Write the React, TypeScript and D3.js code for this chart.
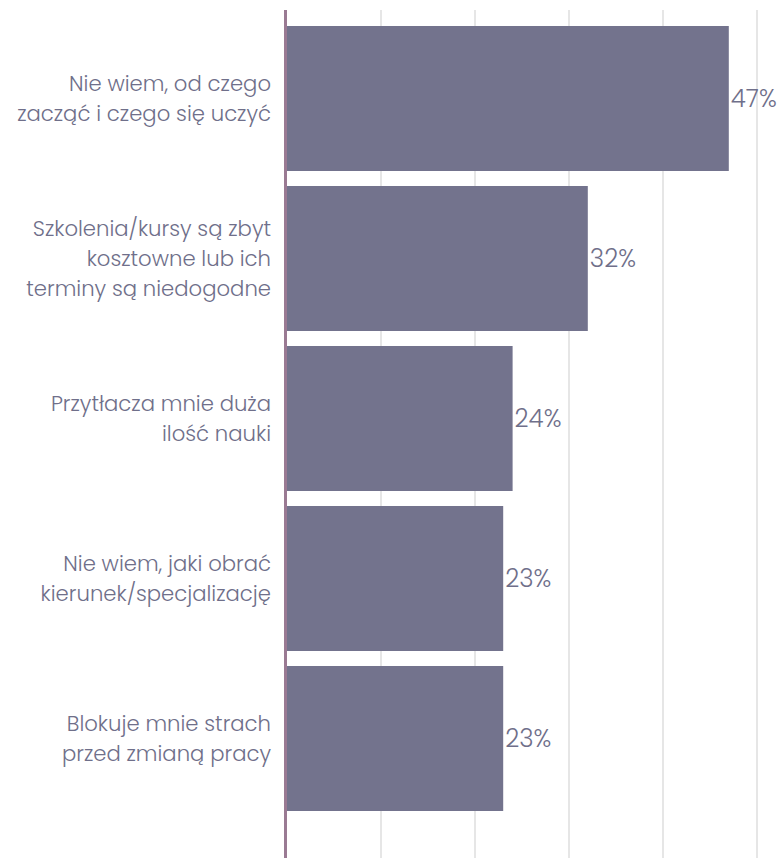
import React from "react";
import * as d3 from "d3";

const categories: string[][] = [
  ["Nie wiem, od czego", "zacząć i czego się uczyć"],
  ["Szkolenia/kursy są zbyt", "kosztowne lub ich", "terminy są niedogodne"],
  ["Przytłacza mnie duża", "ilość nauki"],
  ["Nie wiem, jaki obrać", "kierunek/specjalizację"],
  ["Blokuje mnie strach", "przed zmianą pracy"],
];
const values: number[] = [47, 32, 24, 23, 23];
const gridTicks: number[] = [10, 20, 30, 40, 50];

const W = 782;
const H = 858;
const FONT = "Poppins, 'Open Sans', sans-serif";

export default function App() {
  const x = d3.scaleLinear().domain([0, 50]).range([287, 757]);
  const y = d3
    .scaleBand<number>()
    .domain(values.map((_, i) => i))
    .range([18.5, 818.5])
    .paddingInner(0.09375)
    .paddingOuter(0.046875);
  const lineH = 30;

  return (
    <svg
      width={W}
      height={H}
      style={{ position: "absolute", left: 0, top: 0, background: "#fff" }}
    >
      {gridTicks.map((t) => (
        <line
          key={t}
          x1={x(t)}
          x2={x(t)}
          y1={10}
          y2={H}
          stroke="#e6e6e6"
          strokeWidth={2}
        />
      ))}
      {values.map((v, i) => {
        const yb = y(i)!;
        const cy = yb + y.bandwidth() / 2;
        const lines = categories[i];
        const start = cy - ((lines.length - 1) * lineH) / 2;
        return (
          <g key={i}>
            <rect
              x={x(0)}
              y={yb}
              width={x(v) - x(0)}
              height={y.bandwidth()}
              fill="#73738d"
            />
            <text
              x={x(v) + 2}
              y={cy}
              dy="0.35em"
              fontFamily={FONT}
              fontSize={24.5}
              fontWeight={300}
              fill="#6f6f8a"
            >
              {v}%
            </text>
            {lines.map((l, j) => (
              <text
                key={j}
                x={271}
                y={start + j * lineH}
                dy="0.35em"
                textAnchor="end"
                fontFamily={FONT}
                fontSize={21.2}
                fontWeight={300}
                fill="#6f6f8a"
              >
                {l}
              </text>
            ))}
          </g>
        );
      })}
      <line
        x1={x(0) - 1.5}
        x2={x(0) - 1.5}
        y1={10}
        y2={H}
        stroke="#9a7a93"
        strokeWidth={3}
      />
    </svg>
  );
}
